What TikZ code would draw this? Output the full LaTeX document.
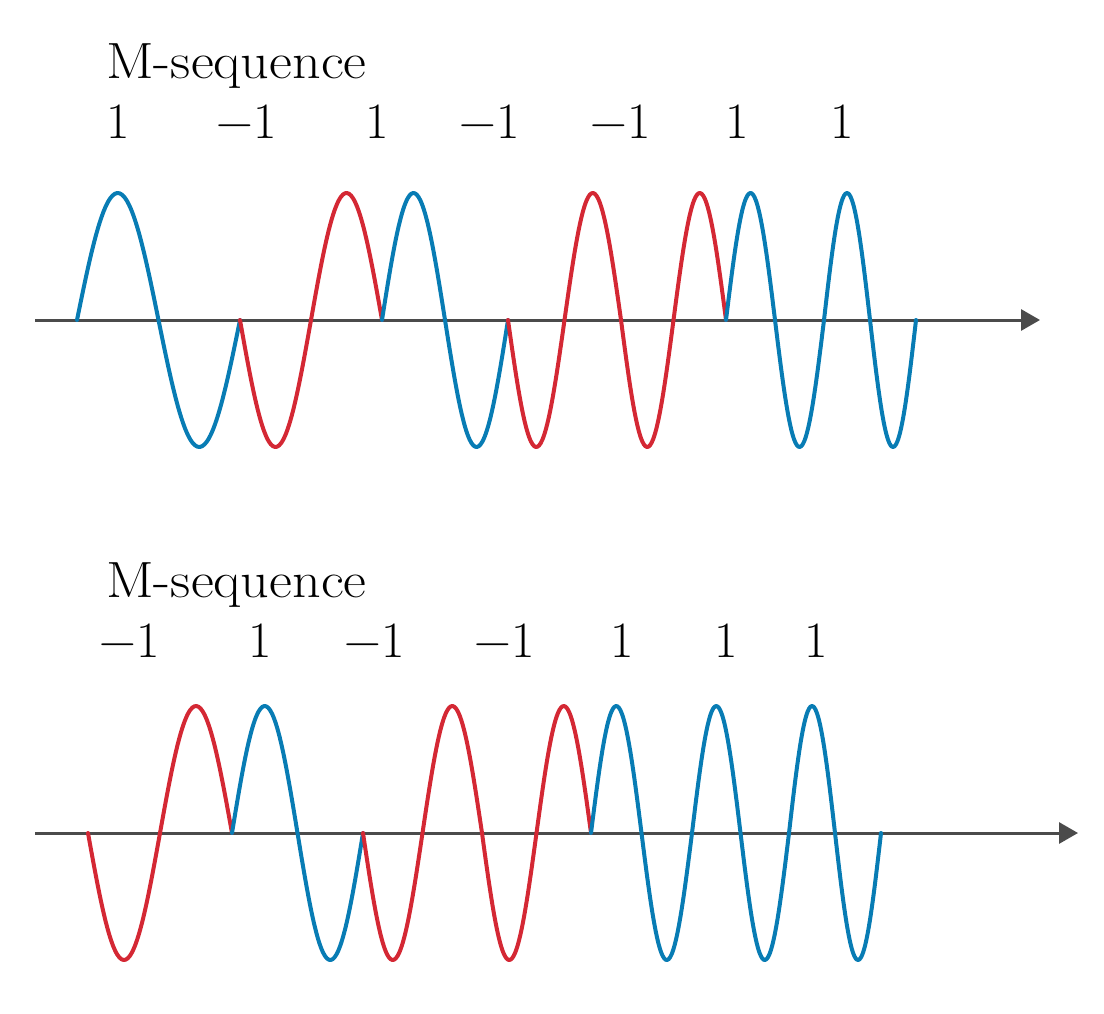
\documentclass[tikz,border=0pt]{standalone}
\usetikzlibrary{arrows.meta}
\definecolor{wblue}{RGB}{8,124,180}
\definecolor{wred}{RGB}{212,40,52}
\definecolor{axisgray}{RGB}{75,75,75}
\tikzset{
  axisline/.style={draw=axisgray, line width=0.06cm, -{Triangle[length=0.38cm,width=0.42cm]}},
  wave/.style={line width=0.08cm, line cap=round, line join=round},
  lbl/.style={inner sep=0pt, font=\fontsize{29}{34}\selectfont},
}
\newcommand{\chip}[5]{% color, start, end, sign, axis y
  \draw[wave, #1] plot[domain=#2:#3, samples=70, smooth] (\x, {#5 - (#4)*127*sin(((\x-#2)/(#3-#2))*360)});
}
\newcommand{\mseq}{\scalebox{1.1}[1]{M-sequence}}
\newcommand{\mone}{\char"2212 1}
\begin{document}
\begin{tikzpicture}[x=0.02cm, y=-0.02cm]
\useasboundingbox (0,0) rectangle (1104,1013);

% ---------- top panel ----------
\node[lbl, anchor=base west] (t1) at (106,79) {\mseq};
\node[lbl, anchor=base] (t1c1) at (118,139) {1};
\node[lbl, anchor=base] (t1c2) at (247,139) {\mone};
\node[lbl, anchor=base] (t1c3) at (377,139) {1};
\node[lbl, anchor=base] (t1c4) at (490,139) {\mone};
\node[lbl, anchor=base] (t1c5) at (621,139) {\mone};
\node[lbl, anchor=base] (t1c6) at (737,139) {1};
\node[lbl, anchor=base] (t1c7) at (842,139) {1};

\coordinate (a1s) at (35,320);
\coordinate (a1e) at (1040,320);
\draw[axisline] (a1s) -- (a1e);

\chip{wblue}{77}{240}{1}{320}
\chip{wred}{240}{382}{-1}{320}
\chip{wblue}{382}{508}{1}{320}
\chip{wred}{508}{621}{-1}{320}
\chip{wred}{621}{726}{-1}{320}
\chip{wblue}{726}{824}{1}{320}
\chip{wblue}{824}{916}{1}{320}

% ---------- bottom panel ----------
\node[lbl, anchor=base west] (t2) at (106,597) {\mseq};
\node[lbl, anchor=base] (t2c1) at (130,657) {\mone};
\node[lbl, anchor=base] (t2c2) at (260,657) {1};
\node[lbl, anchor=base] (t2c3) at (375,657) {\mone};
\node[lbl, anchor=base] (t2c4) at (505,657) {\mone};
\node[lbl, anchor=base] (t2c5) at (622,657) {1};
\node[lbl, anchor=base] (t2c6) at (726,657) {1};
\node[lbl, anchor=base] (t2c7) at (816,657) {1};

\coordinate (a2s) at (35,833);
\coordinate (a2e) at (1078,833);
\draw[axisline] (a2s) -- (a2e);

\chip{wred}{88}{232}{-1}{833}
\chip{wblue}{232}{363}{1}{833}
\chip{wred}{363}{482}{-1}{833}
\chip{wred}{482}{591}{-1}{833}
\chip{wblue}{591}{692}{1}{833}
\chip{wblue}{692}{789}{1}{833}
\chip{wblue}{789}{881}{1}{833}
\end{tikzpicture}
\end{document}
